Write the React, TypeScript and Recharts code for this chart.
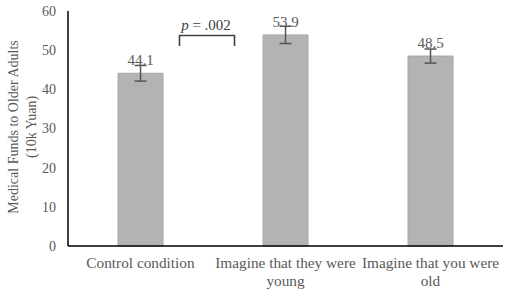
import { BarChart, Bar, XAxis, YAxis, ErrorBar, LabelList, Customized } from 'recharts';
import { Text } from 'recharts';

const conditions = ['Control condition', 'Imagine that they were young', 'Imagine that you were old'];
const funds = [44.1, 53.9, 48.5];
const fundErrors = [2.0, 2.2, 1.8];
const yTicks = [0, 10, 20, 30, 40, 50, 60];

const data = conditions.map((name, i) => ({ name, value: funds[i], err: fundErrors[i] }));

const FONT = '"Liberation Serif", "Times New Roman", serif';
const TEXT_GREY = '#595959';

const CategoryTick = ({ x, y, payload }: any) => (
  <Text
    x={x}
    y={y + 3}
    width={160}
    textAnchor="middle"
    verticalAnchor="start"
    lineHeight={18}
    fill={TEXT_GREY}
    fontSize={15.3}
    fontFamily={FONT}
  >
    {payload.value}
  </Text>
);

const AxisTitle = () => (
  <text
    transform="translate(22, 127) rotate(-90)"
    textAnchor="middle"
    fill={TEXT_GREY}
    fontSize={14}
    fontFamily={FONT}
  >
    <tspan x={0} dy={-4}>Medical Funds to Older Adults</tspan>
    <tspan x={0} dy={18}>(10k Yuan)</tspan>
  </text>
);

// significance bracket between the first two bars
const Bracket = () => (
  <g>
    <path d="M179.5,46 V35.5 H234.5 V46" fill="none" stroke="#404040" strokeWidth={1.6} />
    <text x={206} y={30} textAnchor="middle" fill="#404040" fontSize={15} fontFamily={FONT}>
      <tspan fontStyle="italic">p</tspan> = .002
    </text>
  </g>
);

export default function App() {
  return (
    <div style={{ position: 'absolute', left: 0, top: 0, background: '#fff' }}>
      <BarChart
        width={510}
        height={297}
        data={data}
        margin={{ top: 11, right: 7, bottom: 0, left: 0 }}
        barCategoryGap="34.5%"
      >
        <XAxis
          dataKey="name"
          height={51}
          interval={0}
          axisLine={{ stroke: '#000', strokeWidth: 1.5 }}
          tickLine={false}
          tick={<CategoryTick />}
        />
        <YAxis
          width={68}
          domain={[0, 60]}
          ticks={yTicks}
          axisLine={{ stroke: '#000', strokeWidth: 1.5 }}
          tickLine={false}
          tickMargin={6}
          tick={{ fill: TEXT_GREY, fontSize: 14, fontFamily: FONT }}
        />
        <Bar dataKey="value" fill="#b3b3b3" stroke="#a8a8a8" isAnimationActive={false}>
          <LabelList
            dataKey="value"
            position="top"
            offset={8}
            fill={TEXT_GREY}
            fontSize={15}
            fontFamily={FONT}
          />
          <ErrorBar dataKey="err" width={6} stroke="#555" strokeWidth={1.5} />
        </Bar>
        <Customized component={AxisTitle} />
        <Customized component={Bracket} />
      </BarChart>
    </div>
  );
}
